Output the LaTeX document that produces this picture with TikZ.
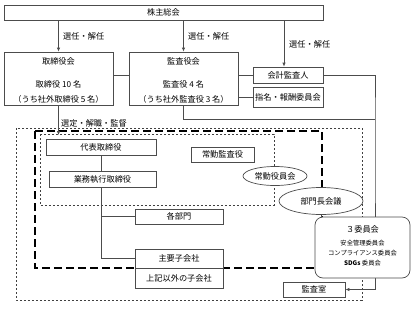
\documentclass[tikz,border=0pt]{standalone}
\usepackage{fontspec}
\setmainfont{Noto Sans CJK JP}
\usetikzlibrary{shapes.geometric,arrows.meta}
\pgfdeclarelayer{bg}
\pgfsetlayers{bg,main}
\begin{document}
\begin{tikzpicture}[x=1pt,y=-1pt,
  box/.style={draw=black!70, line width=0.7pt, fill=white, inner sep=0pt, font=\fontsize{8.2}{10}\selectfont},
  rbox/.style={box, rounded corners=8pt},
  txt/.style={inner sep=0pt, font=\fontsize{8.2}{10}\selectfont},
  small/.style={inner sep=0pt, font=\fontsize{6.3}{8}\selectfont},
  ell/.style={ellipse, draw=black!70, line width=0.7pt, fill=white, inner sep=0pt, font=\fontsize{8.2}{10}\selectfont},
  conn/.style={draw=black!70, line width=0.7pt},
  arr/.style={conn, -{Latex[length=4pt,width=3.5pt]}},
  dots/.style={draw=black!75, line width=0.8pt, dash pattern=on 2.4pt off 1.6pt},
  longdash/.style={draw=black, line width=1.3pt, dash pattern=on 8pt off 4pt}]
\useasboundingbox (0,0) rectangle (416,309);

% dashed groupings
\begin{pgfonlayer}{bg}
\draw[dots] (16,128) rectangle (362,300);
\draw[longdash] (35,131) rectangle (322,268);
\draw[dots] (40,134) rectangle (274,205);
\end{pgfonlayer}

% boxes
\node[box, minimum width=319, minimum height=15] (kabu) at (163.5,12.5) {株主総会};
\node[box, minimum width=109, minimum height=53] (tori) at (58.5,78.5) {};
\node[txt] (tori1) at (58.5,61) {取締役会};
\node[txt] (tori2) at (58.5,84) {取締役 10 名};
\node[txt] (tori3) at (58.5,99) {（うち社外取締役 5 名）};
\node[box, minimum width=109, minimum height=53] (kansa) at (183.5,78.5) {};
\node[txt] (kansa1) at (183.5,61) {監査役会};
\node[txt] (kansa2) at (183.5,84) {監査役 4 名};
\node[txt] (kansa3) at (183.5,99) {（うち社外監査役 3 名）};
\node[box, minimum width=70, minimum height=16] (kaikei) at (288,75) {会計監査人};
\node[box, minimum width=70, minimum height=20] (shimei) at (288,97) {指名・報酬委員会};
\node[box, minimum width=110, minimum height=16] (daihyo) at (101,147) {代表取締役};
\node[box, minimum width=107, minimum height=16] (gyomu) at (102.5,179) {業務執行取締役};
\node[box, minimum width=63, minimum height=15] (jokin) at (222.5,154.5) {常勤監査役};
\node[box, minimum width=88, minimum height=15] (bumon) at (179,216.5) {各部門};
\node[box, minimum width=88, minimum height=19] (shuyo) at (179,258.5) {主要子会社};
\node[box, minimum width=88, minimum height=20] (joki) at (179,278) {上記以外の子会社};
\node[ell, minimum width=64, minimum height=19] (yakuin) at (275,176) {常勤役員会};
\node[ell, minimum width=84, minimum height=27] (buchou) at (321,201) {部門長会議};
\node[rbox, minimum width=95, minimum height=61] (sanin) at (362.5,247.5) {};
\node[txt] (sanin1) at (362.5,229) {３委員会};
\node[small] (sanin2) at (362.5,243) {安全管理委員会};
\node[small] (sanin3) at (362.5,253) {コンプライアンス委員会};
\node[small] (sanin4) at (362.5,263) {\textbf{SDGs} 委員会};
\node[box, minimum width=62, minimum height=15] (shitsu) at (314,289.5) {監査室};

% labels
\node[txt, anchor=west] (lab1) at (63,36) {選任・解任};
\node[txt, anchor=west] (lab2) at (188,36) {選任・解任};
\node[txt, anchor=west] (lab3) at (289,44) {選任・解任};
\node[txt, anchor=west] (lab4) at (61,123) {選定・解職・監督};

% connectors
\draw[arr] (kabu.south -| tori.north) -- (tori.north);
\draw[arr] (kabu.south -| kansa.north) -- (kansa.north);
\draw[arr] ([xshift=-4pt]kaikei.north |- kabu.south) -- ([xshift=-4pt]kaikei.north);
\draw[conn] ([yshift=3.5pt]tori.east) -- ([yshift=3.5pt]kansa.west);
\draw[conn] (kaikei.west -| kansa.east) -- (kaikei.west);
\draw[conn] (shimei.west -| kansa.east) -- (shimei.west);
\coordinate (rx) at (375,119);
\begin{pgfonlayer}{bg}
\draw[arr] (kaikei.east) -| (rx) |- (shitsu.east);
\end{pgfonlayer}
\draw[conn] (kansa.south) |- (rx);
\draw[arr] (tori.south) -- (tori.south |- 0,135);
\draw[conn] (daihyo.south) -- (daihyo.south |- gyomu.north);
\draw[conn] (daihyo.south |- gyomu.south) |- (shuyo.west);
\draw[conn] (daihyo.south |- bumon.west) -- (bumon.west);
\draw[conn] (buchou.south) -- (buchou.south |- sanin.north);
\end{tikzpicture}
\end{document}
